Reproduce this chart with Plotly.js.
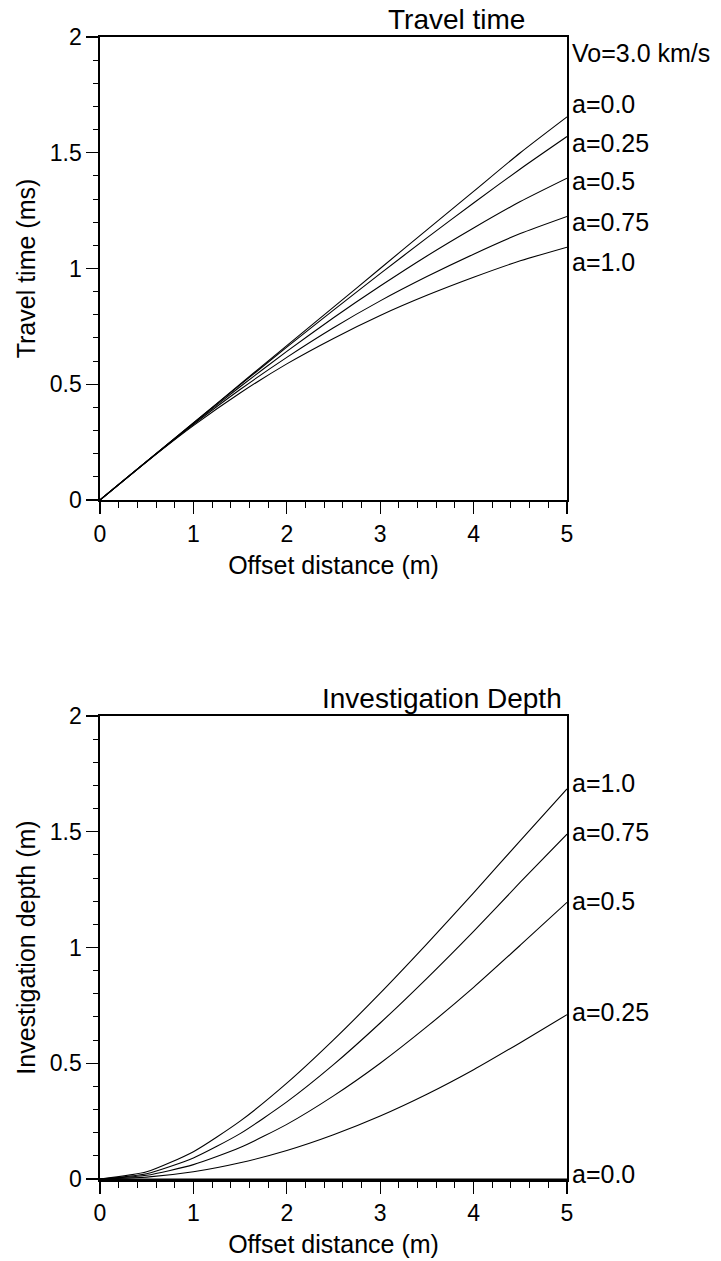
<!DOCTYPE html>
<html>
<head>
<meta charset="utf-8">
<script src="https://cdn.plot.ly/plotly-3.0.1.min.js"></script>
<style>html,body{margin:0;padding:0;background:#fff;}#chart{width:721px;height:1261px;}</style>
</head>
<body>
<div id="chart"></div>
<script>
// Offset distance (m)
const offset = [0, 0.5, 1, 1.5, 2, 2.5, 3, 3.5, 4, 4.5, 5];

// Travel time (ms) for each gradient a
const travelA00  = [0, 0.167, 0.333, 0.500, 0.667, 0.833, 1.000, 1.167, 1.333, 1.500, 1.655];
const travelA025 = [0, 0.167, 0.333, 0.497, 0.660, 0.820, 0.978, 1.132, 1.283, 1.430, 1.570];
const travelA05  = [0, 0.166, 0.330, 0.489, 0.642, 0.787, 0.924, 1.054, 1.175, 1.289, 1.390];
const travelA075 = [0, 0.166, 0.326, 0.477, 0.616, 0.744, 0.860, 0.965, 1.062, 1.151, 1.225];
const travelA10  = [0, 0.165, 0.321, 0.462, 0.588, 0.698, 0.797, 0.884, 0.962, 1.033, 1.092];

// Investigation depth (m) for each gradient a
const depthA00  = [0, 0, 0, 0, 0, 0, 0, 0, 0, 0, 0];
const depthA025 = [0, 0.008, 0.031, 0.070, 0.123, 0.191, 0.272, 0.366, 0.472, 0.589, 0.710];
const depthA05  = [0, 0.016, 0.062, 0.136, 0.236, 0.359, 0.500, 0.658, 0.828, 1.010, 1.195];
const depthA075 = [0, 0.023, 0.091, 0.196, 0.333, 0.494, 0.674, 0.867, 1.070, 1.282, 1.490];
const depthA10  = [0, 0.031, 0.118, 0.250, 0.414, 0.601, 0.803, 1.016, 1.236, 1.462, 1.685];

// Right-hand curve labels
const travelLabels = ["Vo=3.0 km/s", "a=0.0", "a=0.25", "a=0.5", "a=0.75", "a=1.0"];
const travelLabelY = [1.93, 1.71, 1.54, 1.38, 1.20, 1.03];
const depthLabels = ["a=1.0", "a=0.75", "a=0.5", "a=0.25", "a=0.0"];
const depthLabelY = [1.71, 1.50, 1.20, 0.72, 0.02];

const FONT = '"Liberation Sans", Arial, Helvetica, sans-serif';
const lineStyle = {color: '#000', width: 1.1, shape: 'spline', smoothing: 0.6};

const traces = [];
[travelA00, travelA025, travelA05, travelA075, travelA10].forEach(ys => {
  traces.push({x: offset, y: ys, xaxis: 'x', yaxis: 'y', mode: 'lines', line: lineStyle, hoverinfo: 'skip', showlegend: false});
});
[depthA00, depthA025, depthA05, depthA075, depthA10].forEach(ys => {
  traces.push({x: offset, y: ys, xaxis: 'x2', yaxis: 'y2', mode: 'lines', line: lineStyle, hoverinfo: 'skip', showlegend: false});
});

function xAxis(anchor) {
  return {
    anchor: anchor, range: [0, 5], dtick: 1, tick0: 0,
    showgrid: false, zeroline: false,
    showline: true, linecolor: '#000', linewidth: 2.5, mirror: true,
    ticks: 'outside', ticklen: 12, tickwidth: 1.4, tickcolor: '#000',
    minor: {dtick: 0.2, ticks: 'outside', ticklen: 6, tickwidth: 1, tickcolor: '#000', showgrid: false},
    tickfont: {family: FONT, size: 23, color: '#000'},
    title: {text: 'Offset distance (m)', font: {family: FONT, size: 25, color: '#000'}, standoff: 11}
  };
}
function yAxis(anchor, dom, title) {
  return {
    anchor: anchor, domain: dom, range: [0, 2], dtick: 0.5, tick0: 0,
    showgrid: false, zeroline: false,
    showline: true, linecolor: '#000', linewidth: 1.6, mirror: true,
    ticks: 'outside', ticklen: 12, tickwidth: 1.4, tickcolor: '#000',
    minor: {dtick: 0.1, ticks: 'outside', ticklen: 5, tickwidth: 1, tickcolor: '#000', showgrid: false},
    tickfont: {family: FONT, size: 23, color: '#000'},
    title: {text: title, font: {family: FONT, size: 25, color: '#000'}, standoff: 7}
  };
}

const annotations = [];
travelLabels.forEach((t, i) => annotations.push({
  xref: 'x', yref: 'y', x: 5, y: travelLabelY[i], text: t, showarrow: false,
  xanchor: 'left', yanchor: 'middle', xshift: 3,
  font: {family: FONT, size: 25, color: '#000'}
}));
depthLabels.forEach((t, i) => annotations.push({
  xref: 'x2', yref: 'y2', x: 5, y: depthLabelY[i], text: t, showarrow: false,
  xanchor: 'left', yanchor: 'middle', xshift: 3,
  font: {family: FONT, size: 25, color: '#000'}
}));
annotations.push({xref: 'x', yref: 'paper', x: 4.57, y: 1, yshift: 0, text: 'Travel time', showarrow: false,
  xanchor: 'right', yanchor: 'bottom', font: {family: FONT, size: 28, color: '#000'}});
annotations.push({xref: 'x2', yref: 'y2', x: 4.97, y: 2, yshift: 0, text: 'Investigation Depth', showarrow: false,
  xanchor: 'right', yanchor: 'bottom', font: {family: FONT, size: 28, color: '#000'}});

const layout = {
  width: 721, height: 1261,
  margin: {l: 100, r: 154, t: 37, b: 82},
  paper_bgcolor: '#fff', plot_bgcolor: '#fff',
  font: {family: FONT, color: '#000'},
  xaxis: xAxis('y'),
  yaxis: yAxis('x', [0.5946, 1], 'Travel time (ms)'),
  xaxis2: xAxis('y2'),
  yaxis2: yAxis('x2', [0, 0.4054], 'Investigation depth (m)'),
  annotations: annotations,
  showlegend: false
};

Plotly.newPlot('chart', traces, layout, {displayModeBar: false, staticPlot: true});
</script>
</body>
</html>
